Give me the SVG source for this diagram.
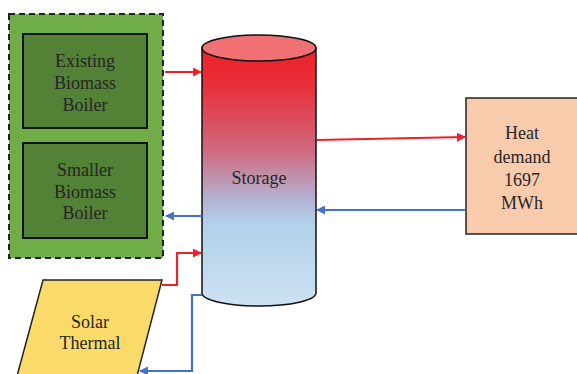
<svg xmlns="http://www.w3.org/2000/svg" width="577" height="374" viewBox="0 0 577 374">
<defs>
<style>
text{font-family:"Times New Roman","Liberation Serif","DejaVu Serif",serif;font-size:18px;fill:#262626;text-anchor:middle}
.red{stroke:#ee2028;stroke-width:2.2;fill:none}
.blue{stroke:#4472c4;stroke-width:2.2;fill:none}
</style>
<linearGradient id="tank" x1="0" y1="0" x2="0" y2="1">
<stop offset="0" stop-color="#ee2028"/>
<stop offset="0.15" stop-color="#e8303a"/>
<stop offset="0.4" stop-color="#d06a80"/>
<stop offset="0.58" stop-color="#b4b0d0"/>
<stop offset="0.68" stop-color="#b2d0ea"/>
<stop offset="1" stop-color="#cde2f3"/>
</linearGradient>
<marker id="ar" markerWidth="9" markerHeight="9" refX="8" refY="4.5" orient="auto" markerUnits="userSpaceOnUse"><path d="M0,0 L9,4.5 L0,9 Z" fill="#ee2028"/></marker>
<marker id="ab" markerWidth="9" markerHeight="9" refX="8" refY="4.5" orient="auto" markerUnits="userSpaceOnUse"><path d="M0,0 L9,4.5 L0,9 Z" fill="#4472c4"/></marker>
</defs>
<rect width="577" height="374" fill="#fff"/>
<g id="biomass-group">
<rect x="9" y="14" width="154" height="244" fill="#70ad47" stroke="#222" stroke-width="2" stroke-dasharray="6,4"/>
</g>
<g id="existing-boiler">
<rect x="23" y="34" width="124" height="94" fill="#538135" stroke="#111" stroke-width="2"/>
<text x="85" y="67">Existing</text>
<text x="85" y="89">Biomass</text>
<text x="85" y="111">Boiler</text>
</g>
<g id="smaller-boiler">
<rect x="23" y="143" width="124" height="95" fill="#538135" stroke="#111" stroke-width="2"/>
<text x="85" y="176">Smaller</text>
<text x="85" y="198">Biomass</text>
<text x="85" y="219">Boiler</text>
</g>
<g id="storage">
<path d="M202,48 L202,293 A57,13 0 0 0 316,293 L316,48 Z" fill="url(#tank)" stroke="#111" stroke-width="1.5"/>
<ellipse cx="259" cy="48" rx="57" ry="13" fill="#f07074" stroke="#111" stroke-width="1.5"/>
<text x="259" y="184">Storage</text>
</g>
<g id="heat-demand">
<rect x="466" y="98" width="112" height="136" fill="#f8cbad" stroke="#222" stroke-width="1.5"/>
<text x="522" y="139">Heat</text>
<text x="522" y="163">demand</text>
<text x="522" y="186">1697</text>
<text x="522" y="209">MWh</text>
</g>
<g id="solar-thermal">
<polygon points="43,280 162,280 137,376 17,376" fill="#fadb6a" stroke="#222" stroke-width="1.5"/>
<text x="90" y="328">Solar</text>
<text x="90" y="349">Thermal</text>
</g>
<g id="connectors">
<path class="red" d="M165,72 L201,72" marker-end="url(#ar)"/>
<path class="blue" d="M202,216 L166,216" marker-end="url(#ab)"/>
<path class="red" d="M162,285 L177,285 L177,253 L201,253" marker-end="url(#ar)"/>
<path class="blue" d="M202,295 L192,295 L192,371 L140,371" marker-end="url(#ab)"/>
<path class="red" d="M317,140 L465,137" marker-end="url(#ar)"/>
<path class="blue" d="M466,210 L317,210" marker-end="url(#ab)"/>
</g>
</svg>
